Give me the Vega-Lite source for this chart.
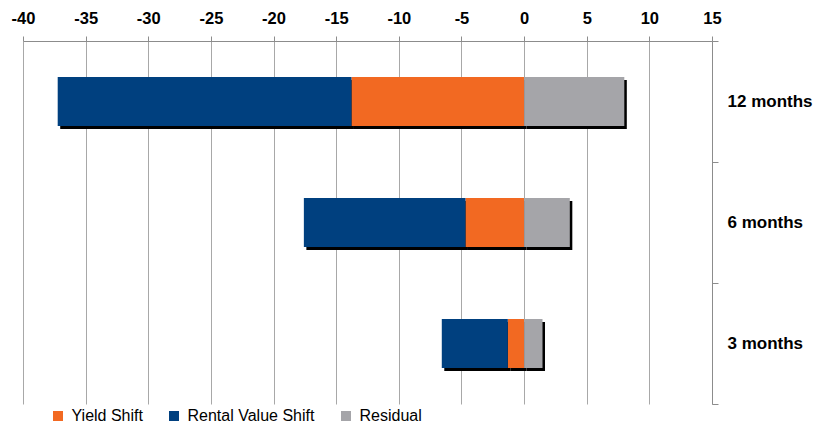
{
  "$schema": "https://vega.github.io/schema/vega-lite/v6.json",
  "width": 689,
  "height": 363,
  "autosize": {"type": "none"},
  "padding": {"left": 23, "top": 41, "right": 103, "bottom": 21},
  "background": "white",
  "data": {
    "values": [
      {"period": "12 months", "component": "Yield Shift", "ord": 1, "value": -13.78},
      {"period": "12 months", "component": "Rental Value Shift", "ord": 2, "value": -23.45},
      {"period": "12 months", "component": "Residual", "ord": 3, "value": 8.0},
      {"period": "6 months", "component": "Yield Shift", "ord": 1, "value": -4.68},
      {"period": "6 months", "component": "Rental Value Shift", "ord": 2, "value": -12.9},
      {"period": "6 months", "component": "Residual", "ord": 3, "value": 3.65},
      {"period": "3 months", "component": "Yield Shift", "ord": 1, "value": -1.3},
      {"period": "3 months", "component": "Rental Value Shift", "ord": 2, "value": -5.27},
      {"period": "3 months", "component": "Residual", "ord": 3, "value": 1.47}
    ]
  },
  "encoding": {
    "y": {
      "field": "period",
      "type": "nominal",
      "sort": ["12 months", "6 months", "3 months"],
      "scale": {"paddingInner": 0, "paddingOuter": 0},
      "axis": {
        "orient": "right",
        "title": null,
        "grid": false,
        "domainColor": "#8C8C8C",
        "tickColor": "#8C8C8C",
        "tickBand": "extent",
        "tickSize": 6,
        "labelFont": "Liberation Sans",
        "labelFontWeight": "bold",
        "labelFontSize": 17,
        "labelColor": "#000000",
        "labelPadding": 9
      }
    },
    "x": {
      "field": "value",
      "type": "quantitative",
      "stack": "zero",
      "scale": {"domain": [-40, 15], "nice": false, "zero": false},
      "axis": {
        "orient": "top",
        "title": null,
        "values": [-40, -35, -30, -25, -20, -15, -10, -5, 0, 5, 10, 15],
        "grid": true,
        "gridColor": "#A8A8A8",
        "domainColor": "#8C8C8C",
        "tickColor": "#8C8C8C",
        "tickSize": 5,
        "labelFont": "Liberation Sans",
        "labelFontWeight": "bold",
        "labelFontSize": 16.5,
        "labelColor": "#000000",
        "labelPadding": 10,
        "labelFlush": false,
        "labelOverlap": false,
        "labelExpr": "'' + datum.value"
      }
    },
    "order": {"field": "ord", "type": "quantitative"}
  },
  "layer": [
    {
      "mark": {"type": "bar", "color": "#000000", "xOffset": 2.5, "yOffset": 3, "height": {"band": 0.405}},
      "encoding": {"detail": {"field": "component", "type": "nominal"}}
    },
    {
      "mark": {"type": "bar", "height": {"band": 0.405}},
      "encoding": {
        "color": {
          "field": "component",
          "type": "nominal",
          "scale": {
            "domain": ["Yield Shift", "Rental Value Shift", "Residual"],
            "range": ["#F26922", "#00407F", "#A5A5A9"]
          },
          "legend": {
            "orient": "none",
            "legendX": 27,
            "legendY": 367,
            "direction": "horizontal",
            "title": null,
            "symbolType": "square",
            "symbolSize": 100,
            "symbolStrokeWidth": 0,
            "labelFont": "Liberation Sans",
            "labelFontSize": 16,
            "labelColor": "#000000",
            "labelOffset": 5.5,
            "columnPadding": 23,
            "padding": 0
          }
        }
      }
    }
  ],
  "config": {"view": {"stroke": null}}
}
